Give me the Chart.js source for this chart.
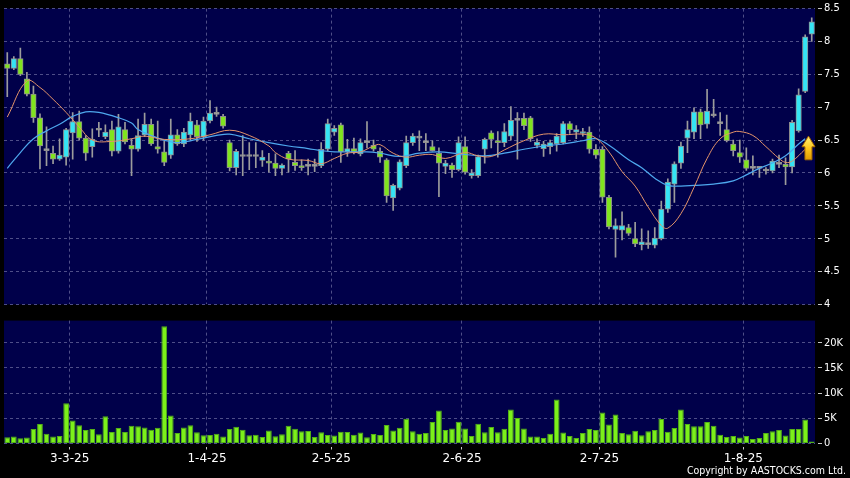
<!DOCTYPE html>
<html>
<head>
<meta charset="utf-8">
<script src="https://cdn.jsdelivr.net/npm/chart.js@4.4.1/dist/chart.umd.min.js"></script>
<style>
html,body{margin:0;padding:0;background:#000;}
#wrap{position:relative;width:850px;height:478px;overflow:hidden;background:#000;}
#priceChart{position:absolute;left:0;top:0;}
#volChart{position:absolute;left:0;top:312px;}
#copy{position:absolute;right:4px;top:464px;color:#fff;font:10.5px "DejaVu Sans Condensed","DejaVu Sans",sans-serif;white-space:nowrap;}
</style>
</head>
<body>
<div id="wrap">
  <canvas id="priceChart" width="850" height="313"></canvas>
  <canvas id="volChart" width="850" height="166"></canvas>
  <div id="copy">Copyright by AASTOCKS.com Ltd.</div>
</div>
<script>
// trading days 17 Feb - 15 Aug 2025, HK exchange holidays skipped
const holidays = ["2025-04-04","2025-04-18","2025-04-21","2025-05-01","2025-05-05","2025-07-01"];
function tradingDays(start, end){
  const out = [];
  let d = new Date(start + "T00:00:00Z");
  const e = new Date(end + "T00:00:00Z");
  while (d <= e) {
    const wd = d.getUTCDay();
    const iso = d.toISOString().slice(0,10);
    if (wd !== 0 && wd !== 6 && !holidays.includes(iso)) {
      out.push(d.getUTCDate() + "-" + (d.getUTCMonth()+1) + "-" + String(d.getUTCFullYear()).slice(2));
    }
    d = new Date(d.getTime() + 86400000);
  }
  return out;
}
const dates = tradingDays("2025-02-17","2025-08-15");

const open = [7.66,7.59,7.74,7.43,7.20,6.84,6.34,6.30,6.21,6.24,
  6.61,6.78,6.53,6.40,6.65,6.55,6.66,6.33,6.66,6.42,
  6.36,6.58,6.74,6.40,6.32,6.27,6.58,6.44,6.58,6.73,
  6.55,6.79,6.89,6.86,6.46,6.08,6.25,6.25,6.25,6.19,
  6.18,6.15,6.07,6.30,6.16,6.11,6.10,6.10,6.11,6.36,
  6.62,6.73,6.32,6.37,6.29,6.46,6.42,6.33,6.20,5.62,
  5.77,6.11,6.46,6.53,6.46,6.40,6.30,6.10,6.12,6.05,
  6.40,5.96,5.96,6.36,6.61,6.49,6.46,6.56,6.80,6.83,
  6.84,6.42,6.37,6.40,6.44,6.46,6.75,6.62,6.60,6.62,
  6.36,6.36,5.63,5.14,5.13,5.17,5.00,4.91,4.91,4.90,
  5.00,5.45,5.83,6.15,6.53,6.62,6.93,6.74,6.87,6.75,
  6.66,6.44,6.31,6.20,6.07,6.07,6.03,6.03,6.13,6.13,
  6.09,6.64,7.24,8.11];
const high = [7.83,7.77,7.90,7.53,7.32,6.90,6.70,6.41,6.52,6.68,
  6.92,6.94,6.57,6.67,6.77,6.73,6.79,6.89,6.77,6.52,
  6.82,6.91,6.82,6.79,6.50,6.82,6.66,6.68,6.91,6.80,
  6.85,7.10,7.00,6.89,6.50,6.36,6.57,6.46,6.46,6.34,
  6.30,6.29,6.14,6.33,6.34,6.20,6.21,6.21,6.46,6.82,
  6.72,6.76,6.51,6.53,6.52,6.78,6.50,6.38,6.22,5.83,
  6.20,6.56,6.60,6.64,6.60,6.49,6.38,6.19,6.15,6.55,
  6.55,6.05,6.27,6.53,6.64,6.63,6.75,7.01,6.92,6.91,
  6.86,6.52,6.48,6.50,6.60,6.78,6.78,6.72,6.68,6.70,
  6.43,6.40,5.66,5.30,5.41,5.22,5.25,5.15,5.12,5.17,
  5.57,5.91,6.17,6.47,6.79,6.99,6.97,7.27,7.12,6.92,
  6.88,6.50,6.50,6.38,6.26,6.10,6.08,6.21,6.27,6.23,
  6.80,7.28,8.10,8.36];
const low = [7.16,7.57,7.48,7.17,6.77,6.06,6.11,6.14,6.19,6.12,
  6.21,6.50,6.19,6.24,6.55,6.52,6.26,6.30,6.44,5.96,
  6.33,6.55,6.42,6.30,6.11,6.22,6.42,6.40,6.50,6.48,
  6.50,6.76,6.86,6.68,6.03,5.97,5.96,6.05,6.08,6.10,
  6.01,5.96,5.97,6.01,6.04,6.04,5.97,6.02,6.08,6.33,
  6.57,6.16,6.25,6.29,6.26,6.38,6.33,6.16,5.55,5.43,
  5.74,6.08,6.42,6.34,6.34,6.33,5.64,5.99,5.93,6.03,
  5.98,5.92,5.93,6.15,6.38,6.24,6.40,6.50,6.21,6.66,
  6.48,6.38,6.25,6.29,6.33,6.44,6.60,6.52,6.56,6.30,
  6.22,5.55,5.15,4.72,4.98,5.05,4.88,4.83,4.85,4.86,
  4.98,5.40,5.55,6.07,6.31,6.52,6.52,6.68,6.85,6.57,
  6.47,6.26,6.16,6.04,5.97,5.93,5.98,6.00,6.08,5.82,
  6.00,6.62,7.22,8.00];
const close = [7.59,7.74,7.50,7.20,6.84,6.41,6.34,6.21,6.27,6.66,
  6.78,6.53,6.30,6.51,6.65,6.62,6.33,6.70,6.47,6.36,
  6.57,6.74,6.44,6.36,6.16,6.58,6.44,6.62,6.79,6.55,
  6.79,6.91,6.89,6.71,6.08,6.33,6.25,6.25,6.25,6.24,
  6.15,6.07,6.12,6.21,6.11,6.08,6.10,6.10,6.36,6.75,
  6.68,6.32,6.37,6.32,6.46,6.46,6.36,6.24,5.65,5.81,
  6.17,6.46,6.56,6.53,6.46,6.34,6.15,6.15,6.05,6.46,
  6.01,6.00,6.25,6.51,6.51,6.46,6.63,6.80,6.80,6.72,
  6.52,6.47,6.44,6.46,6.56,6.75,6.66,6.66,6.63,6.36,
  6.27,5.63,5.18,5.20,5.20,5.08,4.92,4.95,4.91,5.01,
  5.45,5.86,6.14,6.41,6.66,6.93,6.73,6.94,6.87,6.75,
  6.49,6.34,6.24,6.07,6.07,6.07,6.03,6.18,6.13,6.09,
  6.77,7.19,8.07,8.30];
// volume in thousands
const volume = [1.25,1.37,1.06,1.2,2.88,3.86,1.96,1.37,1.5,7.98,
  4.58,3.6,2.68,2.88,1.83,5.43,2.29,3.07,2.29,3.53,
  3.4,3.2,2.75,3.14,23.3,5.56,2.1,3.2,3.6,2.22,
  1.63,1.7,1.96,1.37,2.88,3.33,2.75,1.63,1.76,1.3,
  2.6,1.44,1.83,3.53,2.94,2.42,2.48,1.3,2.22,1.7,
  1.57,2.35,2.29,1.76,2.16,1.24,1.9,1.7,3.66,2.6,
  3.14,4.9,2.42,1.96,2.1,4.25,6.54,2.68,3.0,4.3,
  3.0,1.5,3.9,2.22,3.27,2.22,2.94,6.74,5.04,3.0,
  1.37,1.37,1.1,1.96,8.76,2.16,1.5,1.1,2.1,2.88,
  2.68,6.15,3.79,5.76,2.1,1.83,2.55,1.63,2.42,2.68,
  4.84,2.35,3.07,6.74,3.85,3.4,3.4,4.25,3.53,1.76,
  1.3,1.5,1.18,1.5,0.9,1.1,2.1,2.42,2.68,1.57,
  2.88,2.88,4.77,0.4];

// moving averages at these candle positions
const maShortIdx = [0,3,5,7,9,11,13,16,19,21,24,28,31,34,37,40,41,43,46,48,50,52,54,56,57,59,61,63,65,67,70,72,74,76,79,82,85,88,90,92,94,96,98,100,101,103,105,107,109,111,112,114,116,118,119,120,122];
const maShortVal = [6.85,7.40,7.30,7.12,6.92,6.70,6.50,6.48,6.52,6.56,6.51,6.52,6.58,6.65,6.57,6.41,6.31,6.21,6.19,6.14,6.22,6.30,6.32,6.41,6.43,6.30,6.24,6.27,6.28,6.22,6.31,6.26,6.25,6.35,6.49,6.59,6.58,6.59,6.53,6.32,6.02,5.80,5.48,5.20,5.16,5.38,5.78,6.22,6.52,6.62,6.63,6.57,6.40,6.22,6.16,6.18,6.36];
const maLongIdx = [0,2,4,6,8,10,12,14,17,19,20,22,24,26,29,32,34,37,40,43,46,48,50,55,57,60,63,66,69,73,76,79,82,85,88,90,92,95,97,99,101,103,105,108,111,113,115,117,119,121,122];
const maLongVal = [6.07,6.31,6.52,6.64,6.74,6.86,6.93,6.92,6.84,6.76,6.66,6.57,6.50,6.46,6.51,6.57,6.59,6.52,6.46,6.41,6.37,6.34,6.32,6.32,6.30,6.25,6.30,6.32,6.29,6.26,6.30,6.36,6.41,6.44,6.49,6.52,6.42,6.20,6.08,5.92,5.81,5.80,5.81,5.83,5.88,5.97,6.07,6.15,6.26,6.44,6.52];

const priceTicks = {min: 4, max: 8.5, step: 0.5};
const volTicks = {min: 0, max: 24.4, step: 5};
const arrowAt = {index: 122.5, tip: 6.56, base: 6.20};

function sparse(idx, vals){
  const arr = new Array(dates.length).fill(null);
  idx.forEach((k,n)=>{ arr[k] = vals[n]; });
  return arr;
}

const UP = "#35e4f4", DOWN = "#80e41e", FLAT = "#a8a8a8";
const GRID = "#4e4e88";
const bodyColors = open.map((o,i)=> close[i] > o ? UP : (close[i] < o ? DOWN : FLAT));
const monthStart = dates.map((d,i)=> i > 0 && d.split("-")[1] !== dates[i-1].split("-")[1]);

const plotBg = {
  id: "plotBg",
  beforeDraw(c){
    const {ctx, chartArea:a} = c;
    ctx.save();
    ctx.fillStyle = "#00004a";
    ctx.fillRect(a.left, a.top, a.width, a.height);
    ctx.restore();
  }
};

const upArrow = {
  id: "upArrow",
  afterDatasetsDraw(c){
    const {ctx} = c;
    const xs = c.scales.x, ys = c.scales.y;
    const x = xs.getPixelForValue(arrowAt.index);
    const yt = ys.getPixelForValue(arrowAt.tip);
    const yb = ys.getPixelForValue(arrowAt.base);
    const yh = yt + (yb - yt) * 0.45;
    const g = ctx.createLinearGradient(0, yt, 0, yb);
    g.addColorStop(0, "#fff07a");
    g.addColorStop(0.5, "#ffc81e");
    g.addColorStop(1, "#e09a00");
    ctx.save();
    ctx.beginPath();
    ctx.moveTo(x, yt);
    ctx.lineTo(x + 6.5, yh);
    ctx.lineTo(x + 3.5, yh);
    ctx.lineTo(x + 3.5, yb);
    ctx.lineTo(x - 3.5, yb);
    ctx.lineTo(x - 3.5, yh);
    ctx.lineTo(x - 6.5, yh);
    ctx.closePath();
    ctx.fillStyle = g;
    ctx.fill();
    ctx.strokeStyle = "#a86a00";
    ctx.lineWidth = 1;
    ctx.stroke();
    ctx.restore();
  }
};

const labelFont = {family: "'DejaVu Sans Condensed', 'DejaVu Sans', sans-serif", size: 11};

new Chart(document.getElementById("priceChart"), {
  data: {
    labels: dates,
    datasets: [
      {type: "line", data: sparse(maShortIdx, maShortVal), borderColor: "#e4946a", borderWidth: 1,
       pointRadius: 0, spanGaps: true, tension: 0.4, order: 0},
      {type: "line", data: sparse(maLongIdx, maLongVal), borderColor: "#4ea8ee", borderWidth: 1.2,
       pointRadius: 0, spanGaps: true, tension: 0.4, order: 1},
      {type: "bar", data: open.map((o,i)=>[o, close[i]]), backgroundColor: bodyColors,
       borderColor: "#8e8e8e", borderWidth: 1, borderSkipped: false, barThickness: 5.5,
       minBarLength: 2, grouped: false, order: 2},
      {type: "bar", data: low.map((l,i)=>[l, high[i]]), backgroundColor: "#9c9c9c",
       barThickness: 1, grouped: false, order: 3}
    ]
  },
  options: {
    responsive: false,
    animation: false,
    layout: {padding: {left: 4, top: 7, right: 0, bottom: 7}},
    plugins: {legend: {display: false}, tooltip: {enabled: false}},
    scales: {
      x: {
        offset: true,
        ticks: {display: false},
        grid: {offset: true, drawTicks: false, color: ctx => monthStart[ctx.index] ? GRID : "transparent"},
        border: {display: false, dash: [3,3]},
        afterFit: s => { s.height = 0; }
      },
      y: {
        position: "right",
        min: priceTicks.min, max: priceTicks.max,
        ticks: {stepSize: priceTicks.step, color: "#ffffff", font: labelFont, padding: 2,
          callback: v => String(+v.toFixed(1))},
        grid: {color: GRID, tickColor: "#c8c8c8", tickLength: 7, tickBorderDash: [0,3,4,10]},
        border: {display: false, dash: [3,3]},
        afterFit: s => { s.width = 35; }
      }
    }
  },
  plugins: [plotBg, upArrow]
});

new Chart(document.getElementById("volChart"), {
  type: "bar",
  data: {
    labels: dates,
    datasets: [{
      data: volume, backgroundColor: "#7cf01a", borderColor: "#52b016", borderWidth: 1,
      borderSkipped: false, barPercentage: 0.88, categoryPercentage: 1
    }]
  },
  options: {
    responsive: false,
    animation: false,
    layout: {padding: {left: 4, top: 7, right: 0, bottom: 0}},
    plugins: {legend: {display: false}, tooltip: {enabled: false}},
    scales: {
      x: {
        offset: true,
        ticks: {
          autoSkip: false, maxRotation: 0, minRotation: 0, color: "#ffffff", padding: 2, labelOffset: -3,
          font: {family: "'DejaVu Sans', sans-serif", size: 12},
          callback: (v,i) => monthStart[i] ? dates[i] : ""
        },
        grid: {
          offset: true, tickLength: 6, tickBorderDash: [0,3,3,10],
          color: ctx => monthStart[ctx.index] ? GRID : "transparent",
          tickColor: ctx => monthStart[ctx.index] ? "#c8c8c8" : "transparent"
        },
        border: {display: false, dash: [3,3]},
        afterFit: s => { s.height = 34.5; }
      },
      y: {
        position: "right",
        min: volTicks.min, max: volTicks.max,
        afterBuildTicks: s => { s.ticks = s.ticks.filter(t => t.value % volTicks.step === 0); },
        ticks: {stepSize: volTicks.step, color: "#ffffff", font: labelFont, padding: 2,
          callback: v => v === 0 ? "0" : v + "K"},
        grid: {color: GRID, tickColor: "#c8c8c8", tickLength: 7, tickBorderDash: [0,3,4,10]},
        border: {display: false, dash: [3,3]},
        afterFit: s => { s.width = 35; }
      }
    }
  },
  plugins: [plotBg]
});
</script>
</body>
</html>
